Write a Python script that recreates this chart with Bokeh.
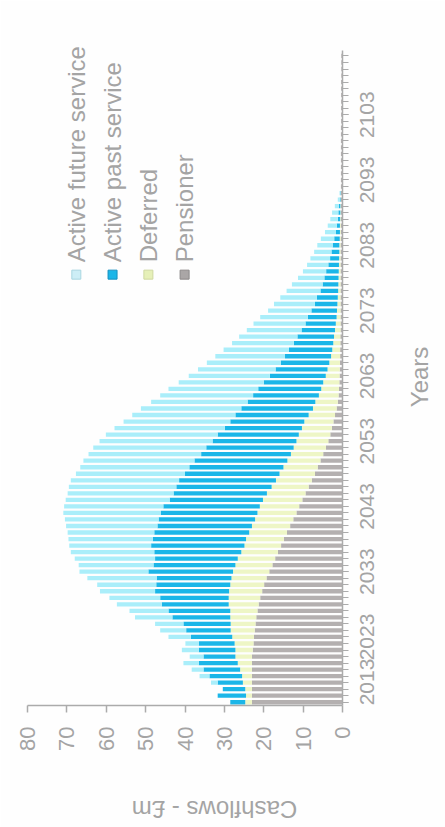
from math import pi
from bokeh.plotting import figure
from bokeh.models import (Range1d, FixedTicker, Label, ColumnDataSource, LinearAxis,
                          CustomJSTickFormatter)
from bokeh.embed import file_html
from bokeh.resources import INLINE

years = list(range(2013, 2113))

pensioner = [
    23.0, 23.0, 23.0, 23.0, 23.0, 23.0, 23.0, 23.0,
    22.8, 22.6, 22.5, 22.3, 22.1, 21.9, 21.6, 21.3, 20.9, 20.4,
    19.9, 19.3, 18.6, 17.8, 17.1, 16.4, 15.6, 14.9, 14.1, 13.3,
    12.5, 11.7, 11.0, 10.2, 9.4, 8.6, 7.8, 7.0, 6.3, 5.6,
    4.9, 4.2, 3.6, 3.1, 2.7, 2.3, 1.9, 1.5, 1.2, 1.0,
    0.9, 0.8, 0.75, 0.7, 0.65, 0.6, 0.6, 0.55, 0.55, 0.5,
    0.5, 0.5, 0.5, 0.5, 0.5, 0.5, 0.5, 0.5, 0.5, 0.5,
    0.5, 0.5, 0.5, 0.45, 0.45, 0.45, 0.45, 0.45, 0.45, 0.45,
    0.45, 0.4, 0.4, 0.4, 0.4, 0.4, 0.4, 0.4, 0.4, 0.4,
    0.4, 0.35, 0.35, 0.35, 0.35, 0.35, 0.35, 0.35, 0.3, 0.3,
    0.3, 0.3,
]

deferred = [
    1.7, 1.5, 1.7, 2.3, 2.5, 3.0, 3.6, 4.2,
    4.4, 4.8, 5.5, 6.1, 6.3, 6.6, 6.9, 7.6, 8.0, 8.4,
    8.6, 8.9, 9.2, 9.4, 9.5, 9.3, 9.3, 9.6, 9.6, 9.7,
    9.7, 9.9, 10.0, 10.0, 9.8, 9.4, 9.1, 9.0, 8.7, 8.4,
    8.2, 8.2, 8.1, 8.0, 7.6, 7.4, 6.7, 6.0, 5.7, 5.0,
    4.5, 4.1, 3.5, 3.1, 2.7, 2.3, 2.0, 1.8, 1.6, 1.4,
    1.2, 1.0, 0.9, 0.8, 0.7, 0.6, 0.55, 0.5, 0.45, 0.4,
    0.35, 0.3, 0.3, 0.25, 0.2, 0.2, 0.15, 0.1, 0.1, 0.05,
    0, 0, 0, 0, 0, 0, 0, 0, 0, 0,
    0, 0, 0, 0, 0, 0, 0, 0, 0, 0,
    0, 0,
]

active_past = [
    3.8, 7.2, 5.7, 6.4, 8.3, 9.3, 9.9, 8.1,
    9.3, 9.1, 10.5, 11.3, 12.0, 14.7, 15.7, 17.0, 17.4, 18.8,
    18.8, 19.0, 21.5, 20.8, 21.0, 22.1, 23.7, 23.7, 24.1, 24.0,
    24.5, 24.5, 24.5, 23.7, 23.7, 24.2, 24.6, 24.0, 23.9, 23.6,
    22.8, 22.2, 21.3, 20.6, 19.6, 18.8, 18.6, 18.2, 17.2, 16.7,
    16.0, 15.1, 14.2, 13.2, 12.3, 11.7, 11.0, 10.0, 9.3, 8.5,
    7.7, 7.3, 6.5, 5.7, 5.3, 4.5, 4.0, 3.6, 3.2, 2.7,
    2.3, 2.0, 1.7, 1.4, 1.0, 0.8, 0.6, 0.5, 0.4, 0.2,
    0.1, 0, 0, 0, 0, 0, 0, 0, 0, 0,
    0, 0, 0, 0, 0, 0, 0, 0, 0, 0,
    0, 0,
]

active_future = [
    0, 0, 0, 1.7, 2.5, 3.0, 3.9, 3.5,
    4.3, 3.4, 5.7, 6.6, 7.2, 9.5, 9.9, 11.4, 12.9, 14.0,
    15.0, 17.6, 17.5, 19.0, 20.4, 21.2, 20.8, 21.4, 22.0, 23.2,
    23.8, 24.8, 25.2, 26.4, 26.9, 27.3, 27.5, 27.7, 27.7, 28.2,
    28.6, 28.7, 28.7, 28.4, 28.0, 27.1, 26.2, 25.5, 24.5, 23.6,
    22.8, 21.6, 20.6, 19.7, 18.8, 17.7, 16.6, 15.7, 14.8, 13.9,
    13.2, 12.1, 11.0, 10.4, 9.3, 8.6, 7.8, 6.7, 5.9, 5.4,
    5.0, 4.4, 3.9, 3.4, 2.8, 2.3, 1.9, 1.6, 1.0, 0.5,
    0.2, 0, 0, 0, 0, 0, 0, 0, 0, 0,
    0, 0, 0, 0, 0, 0, 0, 0, 0, 0,
    0, 0,
]

series = ["Pensioner", "Deferred", "Active past service", "Active future service"]
colors = ["#b4b0b0", "#eef6c6", "#1bb6e8", "#aaeefa"]
legend_labels = ["Active future service", "Active past service", "Deferred", "Pensioner"]
legend_fill = ["#cdeef6", "#1bb6e8", "#e6f0b8", "#aaa6a6"]
legend_line = ["#a9d6e0", "#1590c0", "#cfd9a0", "#8c8888"]
value_ticks = [0, 10, 20, 30, 40, 50, 60, 70, 80]
year_ticks = [2013, 2023, 2033, 2043, 2053, 2063, 2073, 2083, 2093, 2103]
value_title = "Cashflows - £m"
year_title = "Years"

FONT = "Liberation Sans"
GREY = "#a4a4a4"
AXIS = "#ababab"

Y_START, Y_END = 2012.5, 2115.9
# Bokeh starts a label rotated along a right axis at its tick, so each label
# tick is moved back by half a label's length (kept inside the range).
YEAR_LABEL_HALF = 3.58        # half of a 4-digit 21px label, in years
YEARS_TITLE_POS = 2058.2      # start of the rotated "Years" title
VALUE_TITLE_POS = 53.5        # start of the upside-down value title
label_ticks = [max(t - YEAR_LABEL_HALF, Y_START + 0.02) for t in year_ticks]
label_texts = [str(t) for t in year_ticks]

source = ColumnDataSource(dict(year=years, Pensioner=pensioner, Deferred=deferred,
                               **{"Active past service": active_past,
                                  "Active future service": active_future}))

p = figure(frame_width=315, frame_height=675,
           x_range=Range1d(80, 0), y_range=Range1d(Y_START, Y_END),
           output_backend="svg", toolbar_location=None,
           x_axis_location="below", y_axis_location="right",
           min_border_left=27, min_border_right=0,
           min_border_top=30, min_border_bottom=0)
p.outline_line_color = None
p.xgrid.visible = False
p.ygrid.visible = False
p.background_fill_color = "#fefefe"
p.border_fill_color = "#fefefe"

p.hbar_stack(series, y="year", height=0.66, color=colors, source=source, line_width=0)

xa = p.xaxis[0]
xa.ticker = FixedTicker(ticks=value_ticks)
xa.major_label_orientation = pi / 2
xa.major_tick_out = 7
xa.major_tick_in = 0
xa.minor_tick_out = 0
xa.axis_line_color = AXIS
xa.axis_line_width = 1.5
xa.major_tick_line_color = AXIS
xa.major_tick_line_width = 1.5
xa.major_label_standoff = 14
xa.major_label_text_font = FONT
xa.major_label_text_font_size = "22px"
xa.major_label_text_color = GREY

# year axis: line and ticks only
ya = p.yaxis[0]
ya.ticker = FixedTicker(ticks=year_ticks, minor_ticks=years)
ya.formatter = CustomJSTickFormatter(code="return ''")
ya.major_label_text_font_size = "0px"
ya.bounds = (2012.5, 2112.85)
ya.major_tick_out = 6
ya.major_tick_in = 0
ya.minor_tick_out = 6
ya.minor_tick_in = 0
ya.axis_line_color = AXIS
ya.axis_line_width = 1.5
ya.major_tick_line_color = AXIS
ya.minor_tick_line_color = AXIS
ya.major_label_standoff = 0

# year tick labels (rotated to read upwards, centred on their years)
yl = LinearAxis(ticker=FixedTicker(ticks=label_ticks),
                formatter=CustomJSTickFormatter(
                    args=dict(pos=label_ticks, txt=label_texts),
                    code="""
let best = 0;
for (let i = 1; i < pos.length; i++) {
  if (Math.abs(pos[i] - tick) < Math.abs(pos[best] - tick)) best = i;
}
return txt[best];
"""),
                major_label_orientation=pi / 2,
                axis_line_color=None, major_tick_line_color=None,
                minor_tick_line_color=None, major_tick_out=0, major_tick_in=0,
                major_label_standoff=19,
                major_label_text_font=FONT, major_label_text_font_size="21px",
                major_label_text_color=GREY)
p.add_layout(yl, "right")

yt = LinearAxis(ticker=FixedTicker(ticks=[YEARS_TITLE_POS]),
                formatter=CustomJSTickFormatter(args=dict(t=year_title), code="return t"),
                major_label_orientation=pi / 2,
                axis_line_color=None, major_tick_line_color=None,
                minor_tick_line_color=None, major_tick_out=0, major_tick_in=0,
                major_label_standoff=35,
                major_label_text_font=FONT, major_label_text_font_size="24px",
                major_label_text_color=GREY)
p.add_layout(yt, "right")

xt = LinearAxis(ticker=FixedTicker(ticks=[VALUE_TITLE_POS]),
                formatter=CustomJSTickFormatter(args=dict(t=value_title), code="return t"),
                major_label_orientation=pi,
                axis_line_color=None, major_tick_line_color=None,
                minor_tick_line_color=None, major_tick_out=0, major_tick_in=0,
                major_label_standoff=56,
                major_label_text_font=FONT, major_label_text_font_size="24px",
                major_label_text_color=GREY)
p.add_layout(xt, "below")

# legend
leg_x = [67.6, 58.4, 49.3, 40.1]
p.scatter(x=leg_x, y=[2078.5] * 4, marker="square", size=9,
          fill_color=legend_fill, line_color=legend_line, line_width=1)
for lx, lab in zip(leg_x, legend_labels):
    p.add_layout(Label(x=lx, y=2080.4, text=lab, angle=pi / 2,
                       text_align="left", text_baseline="middle",
                       text_font=FONT, text_font_size="24px", text_color=GREY))

open("out.html", "w").write(file_html(p, INLINE))
